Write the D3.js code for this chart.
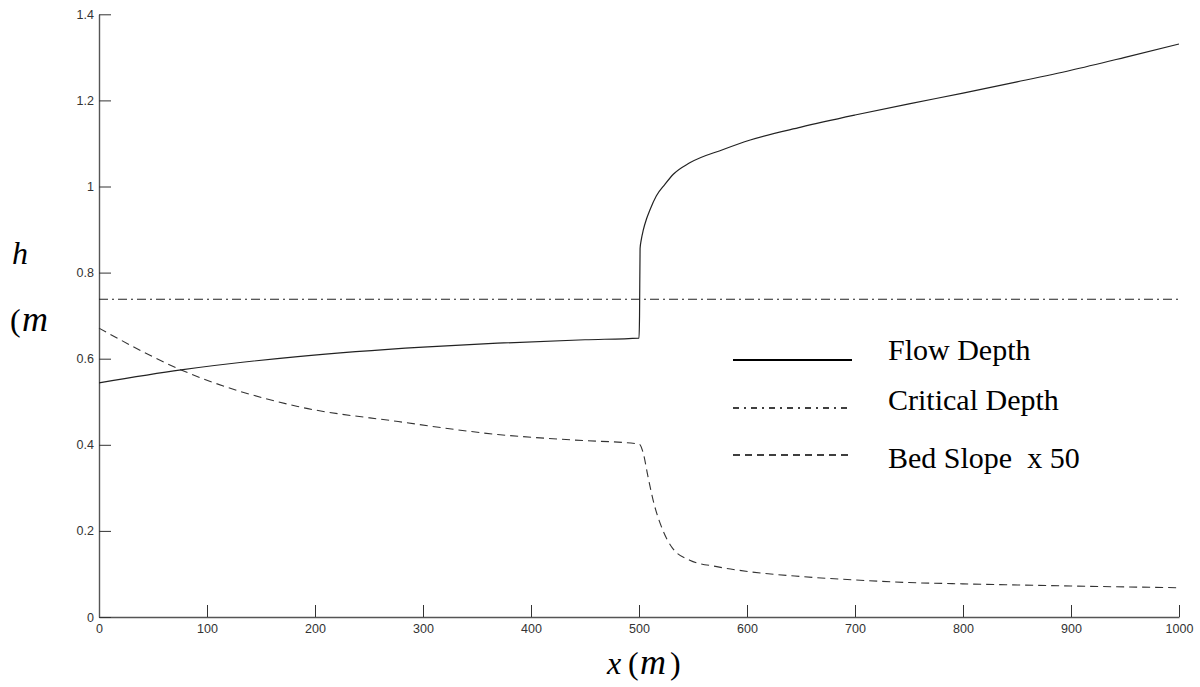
<!DOCTYPE html>
<html>
<head>
<meta charset="utf-8">
<script src="https://cdn.jsdelivr.net/npm/d3@7"></script>
<style>
  html, body { margin: 0; padding: 0; background: #fff; }
  svg { display: block; }
  .tick text { font-family: "Liberation Sans", Arial, sans-serif; font-size: 12.5px; fill: #333; }
</style>
</head>
<body>
<svg id="chart" width="1200" height="687"></svg>
<script>
// Distance along the channel (m) and computed flow depth (m)
const flowX = [0, 76, 184, 300, 369, 450, 500,
               500.5, 501, 502, 504, 507, 510, 516, 524, 532, 547, 578, 603,
               650, 700, 750, 800, 850, 900, 950, 1000];
const flowDepth = [0.544, 0.574, 0.605, 0.627, 0.636, 0.644, 0.648,
                   0.70, 0.856, 0.875, 0.899, 0.925, 0.945, 0.978, 1.005, 1.029, 1.055, 1.086, 1.108,
                   1.138, 1.166, 1.192, 1.217, 1.243, 1.270, 1.300, 1.331];

// Critical depth is constant along the reach
const criticalX = [0, 1000];
const criticalDepth = [0.738, 0.738];

// Bed slope scaled by 50
const slopeX = [0, 76, 184, 277, 369, 440, 500,
                504, 508, 513, 522, 531, 547, 572, 603, 650, 700, 750, 800, 900, 1000];
const bedSlope50 = [0.671, 0.574, 0.489, 0.454, 0.424, 0.411, 0.402,
                    0.380, 0.330, 0.272, 0.202, 0.160, 0.132, 0.117, 0.105, 0.094, 0.086, 0.080, 0.077, 0.072, 0.068];

// Axis ticks
const xTicks = [0, 100, 200, 300, 400, 500, 600, 700, 800, 900, 1000];
const yTicks = [0, 0.2, 0.4, 0.6, 0.8, 1, 1.2, 1.4];

const legendLabels = ["Flow Depth", "Critical Depth", "Bed Slope  x 50"];

const svg = d3.select("#chart");
const plotLeft = 99, plotRight = 1179, plotTop = 14.3, plotBottom = 617;

const x = d3.scaleLinear().domain([0, 1000]).range([plotLeft, plotRight]);
const y = d3.scaleLinear().domain([0, 1.4]).range([plotBottom, plotTop]);

const axisColor = "#555";

// Axes: ticks point inward
const xAxis = d3.axisBottom(x).tickValues(xTicks).tickSizeInner(-12).tickSizeOuter(0).tickPadding(5)
  .tickFormat(d3.format("d"));
const yAxis = d3.axisLeft(y).tickValues(yTicks).tickSizeInner(-12).tickSizeOuter(0).tickPadding(5)
  .tickFormat(d => String(+d.toFixed(1)));

const gx = svg.append("g").attr("transform", `translate(0,${plotBottom})`).call(xAxis);
const gy = svg.append("g").attr("transform", `translate(${plotLeft},0)`).call(yAxis);
[gx, gy].forEach(g => {
  g.select(".domain").attr("stroke", axisColor).attr("stroke-width", 1.4);
  g.selectAll(".tick line").attr("stroke", "#333").attr("stroke-width", 1);
});
gx.selectAll(".tick text").attr("dy", "0.85em");

const line = d3.line().curve(d3.curveMonotoneX).x(d => x(d[0])).y(d => y(d[1]));

const series = [
  { xs: flowX, ys: flowDepth, dash: null, color: "#222", width: 1.2 },
  { xs: criticalX, ys: criticalDepth, dash: "9,4,2,4", color: "#222", width: 1.1 },
  { xs: slopeX, ys: bedSlope50, dash: "8,5", color: "#333", width: 1.1 }
];

series.forEach(s => {
  svg.append("path")
    .datum(d3.zip(s.xs, s.ys))
    .attr("d", line)
    .attr("fill", "none")
    .attr("stroke", s.color)
    .attr("stroke-width", s.width)
    .attr("stroke-dasharray", s.dash);
});

// Legend
const legendRows = [
  { y: 360, dash: null, width: 2.2, textY: 360 },
  { y: 408, dash: "6,5,2,5", width: 1.6, textY: 410 },
  { y: 455, dash: "7,5", width: 1.6, textY: 468 }
];
legendRows.forEach((r, i) => {
  svg.append("line")
    .attr("x1", 733).attr("x2", 852)
    .attr("y1", r.y).attr("y2", r.y)
    .attr("stroke", "#000")
    .attr("stroke-width", r.width)
    .attr("stroke-dasharray", r.dash);
  svg.append("text")
    .attr("x", 888).attr("y", r.textY)
    .attr("font-family", "'Liberation Serif', 'Times New Roman', serif")
    .attr("font-size", 30)
    .attr("fill", "#000")
    .style("white-space", "pre")
    .text(legendLabels[i]);
});

// Axis titles
const titleFont = "'Liberation Serif', 'Times New Roman', serif";
svg.append("text").attr("x", 12).attr("y", 264)
  .attr("font-family", titleFont).attr("font-size", 32).attr("font-style", "italic")
  .text("h");
const ym = svg.append("text").attr("y", 331)
  .attr("font-family", titleFont).attr("font-size", 32);
ym.append("tspan").attr("x", 10).text("(");
ym.append("tspan").attr("x", 22).attr("font-style", "italic").attr("font-size", 36).text("m");

const xt = svg.append("text").attr("y", 674)
  .attr("font-family", titleFont).attr("font-size", 32);
xt.append("tspan").attr("x", 607).attr("font-style", "italic").text("x");
xt.append("tspan").attr("x", 628).text("(");
xt.append("tspan").attr("x", 640).attr("font-style", "italic").attr("font-size", 36).text("m");
xt.append("tspan").attr("x", 670).text(")");
</script>
</body>
</html>
